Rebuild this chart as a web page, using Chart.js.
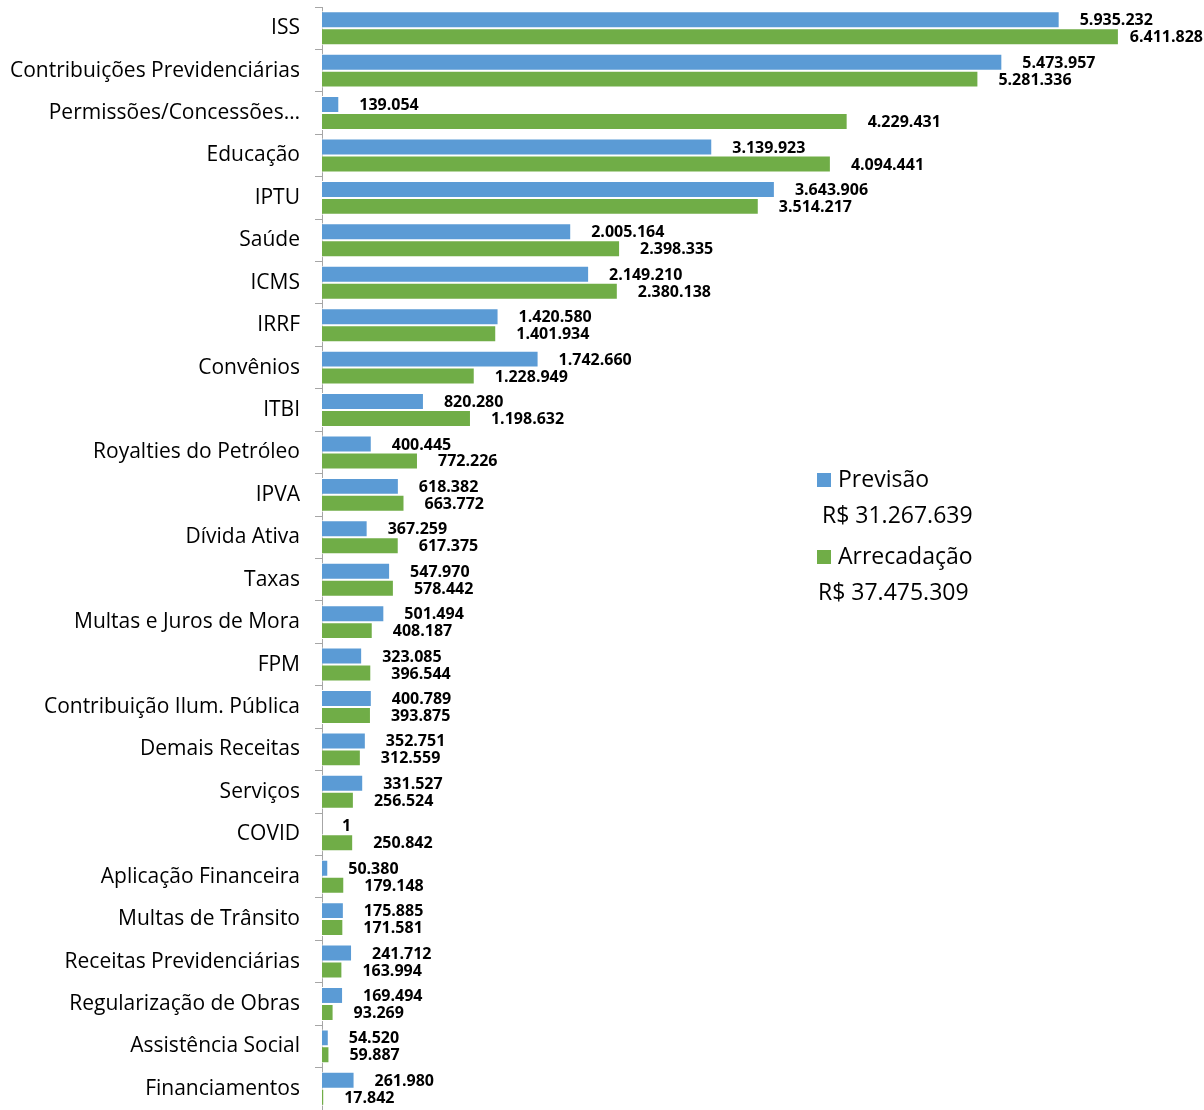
<!DOCTYPE html>
<html>
<head>
<meta charset="utf-8">
<script src="https://cdn.jsdelivr.net/npm/chart.js@4.4.1/dist/chart.umd.min.js"></script>
<style>
    html, body { margin: 0; padding: 0; background: #fff; }
    #wrap { width: 1204px; height: 1110px; }
</style>
</head>
<body>
<div id="wrap"><canvas id="receitas" width="1204" height="1110"></canvas></div>
<script>
// categories (top to bottom)
const categorias = [
    'ISS', 'Contribuições Previdenciárias', 'Permissões/Concessões…', 'Educação', 'IPTU',
    'Saúde', 'ICMS', 'IRRF', 'Convênios', 'ITBI', 'Royalties do Petróleo', 'IPVA',
    'Dívida Ativa', 'Taxas', 'Multas e Juros de Mora', 'FPM', 'Contribuição Ilum. Pública',
    'Demais Receitas', 'Serviços', 'COVID', 'Aplicação Financeira', 'Multas de Trânsito',
    'Receitas Previdenciárias', 'Regularização de Obras', 'Assistência Social', 'Financiamentos'
];
const previsao = [
    5935232, 5473957, 139054, 3139923, 3643906,
    2005164, 2149210, 1420580, 1742660, 820280, 400445, 618382,
    367259, 547970, 501494, 323085, 400789,
    352751, 331527, 1, 50380, 175885,
    241712, 169494, 54520, 261980
];
const arrecadacao = [
    6411828, 5281336, 4229431, 4094441, 3514217,
    2398335, 2380138, 1401934, 1228949, 1198632, 772226, 663772,
    617375, 578442, 408187, 396544, 393875,
    312559, 256524, 250842, 179148, 171581,
    163994, 93269, 59887, 17842
];
const legendaTotais = ['R$ 31.267.639', 'R$ 37.475.309'];
const eixoMax = 7000000;

const azul = '#5B9BD5';
const verde = '#70AD47';

// format 1234567 -> 1.234.567
function fmt(n) {
    return String(n).replace(/\B(?=(\d{3})+(?!\d))/g, '.');
}

// value labels at the end of each bar
const rotulos = {
    id: 'rotulos',
    afterDatasetsDraw(chart) {
        const ctx = chart.ctx;
        ctx.save();
        ctx.font = 'bold 16px "Open Sans"';
        ctx.fillStyle = '#000';
        ctx.textAlign = 'left';
        ctx.textBaseline = 'middle';
        chart.data.datasets.forEach((ds, i) => {
            const meta = chart.getDatasetMeta(i);
            meta.data.forEach((bar, j) => {
                const txt = fmt(ds.data[j]);
                let x = bar.x + 20;
                const w = ctx.measureText(txt).width;
                if (x + w > chart.width - 1) x = chart.width - 1 - w; // keep inside
                ctx.fillText(txt, x, bar.y + 1);
            });
        });
        ctx.restore();
    }
};

// legend with totals, drawn inside the plot
const legenda = {
    id: 'legenda',
    afterDraw(chart) {
        const ctx = chart.ctx;
        ctx.save();
        ctx.textBaseline = 'middle';
        ctx.textAlign = 'left';
        const itens = [
            { cor: azul, nome: chart.data.datasets[0].label, total: legendaTotais[0], y: 480, xt: 822 },
            { cor: verde, nome: chart.data.datasets[1].label, total: legendaTotais[1], y: 557, xt: 818 }
        ];
        itens.forEach(it => {
            ctx.fillStyle = it.cor;
            ctx.fillRect(817, it.y - 7, 14, 14);
            ctx.fillStyle = '#000';
            ctx.font = '23px "Open Sans"';
            ctx.fillText(it.nome, 838, it.y);
            ctx.fillText(it.total, it.xt, it.y + 36);
        });
        ctx.restore();
    }
};

new Chart(document.getElementById('receitas'), {
    type: 'bar',
    data: {
        labels: categorias,
        datasets: [
            { label: 'Previsão', data: previsao, backgroundColor: azul },
            { label: 'Arrecadação', data: arrecadacao, backgroundColor: verde }
        ]
    },
    options: {
        indexAxis: 'y',
        responsive: false,
        animation: false,
        devicePixelRatio: 1,
        layout: { padding: { top: 7, right: 12, bottom: 0, left: 0 } },
        datasets: {
            bar: {
                categoryPercentage: 0.8,
                barPercentage: 1,
                borderColor: '#ffffff',
                borderWidth: 1,
                borderSkipped: 'start'
            }
        },
        plugins: {
            legend: { display: false },
            tooltip: { enabled: false }
        },
        scales: {
            x: {
                display: false,
                min: 0,
                max: eixoMax
            },
            y: {
                afterFit: scale => {
                    scale.width = 322;
                    scale.paddingTop = 0;
                    scale.paddingBottom = 0;
                },
                border: { display: true, color: '#a6a6a6', width: 1 },
                grid: {
                    drawOnChartArea: false,
                    drawTicks: true,
                    tickLength: 7,
                    color: '#a6a6a6'
                },
                ticks: {
                    padding: 15,
                    color: '#000',
                    font: { family: 'Open Sans', size: 21 }
                }
            }
        }
    },
    plugins: [rotulos, legenda]
});
</script>
</body>
</html>
